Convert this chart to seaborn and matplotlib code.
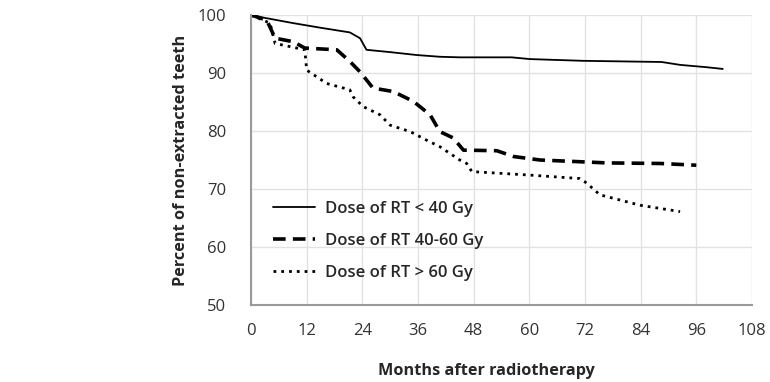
import matplotlib
matplotlib.use("Agg")
import matplotlib.pyplot as plt
import seaborn as sns
import pandas as pd

# Dose < 40 Gy
low_x = [0, 3, 9.1, 15, 21.3, 23.5, 24.9, 30, 35.7, 40.7, 45, 56.2, 60.1, 71.6, 80, 88.5, 92.5, 98.2, 101.7]
low_y = [100, 99.5, 98.6, 97.8, 97.0, 96.0, 94.0, 93.6, 93.1, 92.8, 92.7, 92.7, 92.4, 92.1, 92.0, 91.9, 91.4, 91.0, 90.7]
# Dose 40-60 Gy
mid_x = [0, 3.4, 5.2, 9.1, 11.6, 18.5, 21.3, 23.5, 26.3, 30.7, 35, 38.6, 40.7, 43.6, 45.8, 53, 56.6, 62.3, 76.7, 88.2, 96]
mid_y = [100, 99.1, 96.0, 95.4, 94.3, 94.0, 92.0, 90.2, 87.4, 86.8, 85.1, 82.8, 79.9, 78.8, 76.7, 76.6, 75.6, 75.0, 74.5, 74.4, 74.1]
# Dose > 60 Gy
high_x = [0, 4.1, 5.2, 11.6, 12.0, 16.3, 21.3, 22.0, 24.2, 27.8, 30, 34.3, 37.9, 40.7, 45, 46.5, 47.6, 60.1, 70.9, 72.4, 75.2, 83.9, 92.5]
high_y = [100, 98.6, 95.1, 94.0, 90.5, 88.2, 87.1, 85.9, 84.2, 82.8, 81.0, 79.9, 78.4, 77.3, 75.0, 74.4, 73.0, 72.4, 71.8, 71.0, 69.0, 67.2, 66.1]

labels = ["Dose of RT < 40 Gy", "Dose of RT 40-60 Gy", "Dose of RT > 60 Gy"]
x_ticks = [0, 12, 24, 36, 48, 60, 72, 84, 96, 108]
y_ticks = [50, 60, 70, 80, 90, 100]

df = pd.concat([
    pd.DataFrame({"month": low_x, "pct": low_y, "group": labels[0]}),
    pd.DataFrame({"month": mid_x, "pct": mid_y, "group": labels[1]}),
    pd.DataFrame({"month": high_x, "pct": high_y, "group": labels[2]}),
])

sns.set_theme(style="white")
plt.rcParams['font.family'] = ['Open Sans', 'DejaVu Sans']

fig = plt.figure(figsize=(7.7, 3.82), dpi=100)
ax = fig.add_axes([251/770, 1 - 305/382, (752-251)/770, (305-15)/382])

styles = {
    labels[0]: dict(linestyle="-", linewidth=1.3),
    labels[1]: dict(linestyle=(0, (3.5, 2)), linewidth=2.6),
    labels[2]: dict(linestyle=(0, (1, 1.8)), linewidth=2.0),
}
for g in labels:
    sub = df[df["group"] == g]
    sns.lineplot(data=sub, x="month", y="pct", ax=ax, color="black",
                 estimator=None, sort=False, label=g, **styles[g])

ax.set_xlim(0, 108)
ax.set_ylim(50, 100)
ax.set_xticks(x_ticks)
ax.set_yticks(y_ticks)
ax.grid(True, color="#e2e2e2", linewidth=1)
ax.set_axisbelow(True)
for s in ["top", "right"]:
    ax.spines[s].set_visible(False)
for s in ["left", "bottom"]:
    ax.spines[s].set_color("#9a9a9a")
    ax.spines[s].set_linewidth(1.5)
ax.tick_params(axis="both", length=0, labelsize=12, colors="#333333")
ax.tick_params(axis="x", pad=13)
ax.tick_params(axis="y", pad=18)

ax.set_xlabel("Months after radiotherapy", fontsize=11.7, fontweight="bold")
ax.xaxis.set_label_coords(0.47, -0.2)
ax.set_ylabel("Percent of non-extracted teeth", fontsize=11.7, fontweight="bold")
ax.yaxis.set_label_coords(-0.123, 0.5)

leg = ax.legend(loc="lower left", bbox_to_anchor=(0.014, 0.03), frameon=False,
                fontsize=12, handlelength=2.5, labelspacing=0.96, handletextpad=0.6)
for t in leg.get_texts():
    t.set_fontweight("semibold")

fig.savefig("out.png", dpi=100)
